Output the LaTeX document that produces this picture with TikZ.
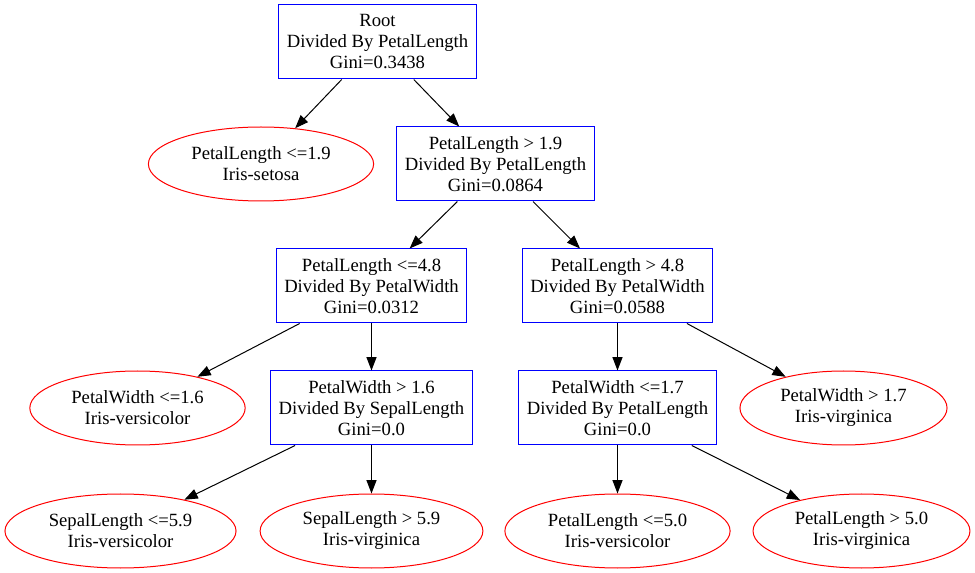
\documentclass[tikz,border=0pt]{standalone}
\usepackage{fontspec}
\setmainfont{Liberation Serif}
\usetikzlibrary{arrows.meta}
\usetikzlibrary{shapes.geometric}

\begin{document}
\begin{tikzpicture}[x=0.75pt,y=0.75pt,yscale=-1,xscale=1,
  split/.style={draw=blue,line width=0.75pt,rectangle,align=center,
    minimum height=55.5pt,inner xsep=6pt,inner ysep=0pt,
    font=\fontsize{14}{15.75}\selectfont},
  leaf/.style={draw=red,line width=0.75pt,ellipse,align=center,
    minimum height=55.5pt,inner xsep=7.5pt,inner ysep=0pt,
    font=\fontsize{14}{15.75}\selectfont},
  edge/.style={draw=black,line width=0.75pt,-{Triangle[length=10pt,width=7.5pt]}}]
%uncomment if require: \path (0,573); %set diagram left start at 0, and has height of 573
\useasboundingbox (0,0) rectangle (975,573);

%Shape: Rectangle
\node [split] (root) at (377.5,42) {Root\\Divided By PetalLength\\Gini=0.3438};
%Shape: Ellipse
\node [leaf] (lenlow) at (261,164) {PetalLength <=1.9\\Iris-setosa};
%Shape: Rectangle
\node [split] (lenhigh) at (495.5,164) {PetalLength > 1.9\\Divided By PetalLength\\Gini=0.0864};
%Shape: Rectangle
\node [split] (lenmid) at (371.5,286) {PetalLength <=4.8\\Divided By PetalWidth\\Gini=0.0312};
%Shape: Rectangle
\node [split] (lentop) at (617.5,286) {PetalLength > 4.8\\Divided By PetalWidth\\Gini=0.0588};
%Shape: Ellipse
\node [leaf] (widlow) at (137.5,408) {PetalWidth <=1.6\\Iris-versicolor};
%Shape: Rectangle
\node [split] (widhigh) at (371.5,408) {PetalWidth > 1.6\\Divided By SepalLength\\Gini=0.0};
%Shape: Rectangle
\node [split] (widmid) at (617.5,408) {PetalWidth <=1.7\\Divided By PetalLength\\Gini=0.0};
%Shape: Ellipse
\node [leaf] (widtop) at (843.5,408) {PetalWidth > 1.7\\Iris-virginica};
%Shape: Ellipse
\node [leaf] (seplow) at (120.5,531) {SepalLength <=5.9\\Iris-versicolor};
%Shape: Ellipse
\node [leaf] (sephigh) at (371.5,531) {SepalLength > 5.9\\Iris-virginica};
%Shape: Ellipse
\node [leaf] (endlow) at (617.5,531) {PetalLength <=5.0\\Iris-versicolor};
%Shape: Ellipse
\node [leaf] (endhigh) at (861.5,531) {PetalLength > 5.0\\Iris-virginica};

%Straight Lines
\draw [edge] (root) -- (lenlow);
\draw [edge] (root) -- (lenhigh);
\draw [edge] (lenhigh) -- (lenmid);
\draw [edge] (lenhigh) -- (lentop);
\draw [edge] (lenmid) -- (widlow);
\draw [edge] (lenmid) -- (widhigh);
\draw [edge] (lentop) -- (widmid);
\draw [edge] (lentop) -- (widtop);
\draw [edge] (widhigh) -- (seplow);
\draw [edge] (widhigh) -- (sephigh);
\draw [edge] (widmid) -- (endlow);
\draw [edge] (widmid) -- (endhigh);

\end{tikzpicture}
\end{document}
